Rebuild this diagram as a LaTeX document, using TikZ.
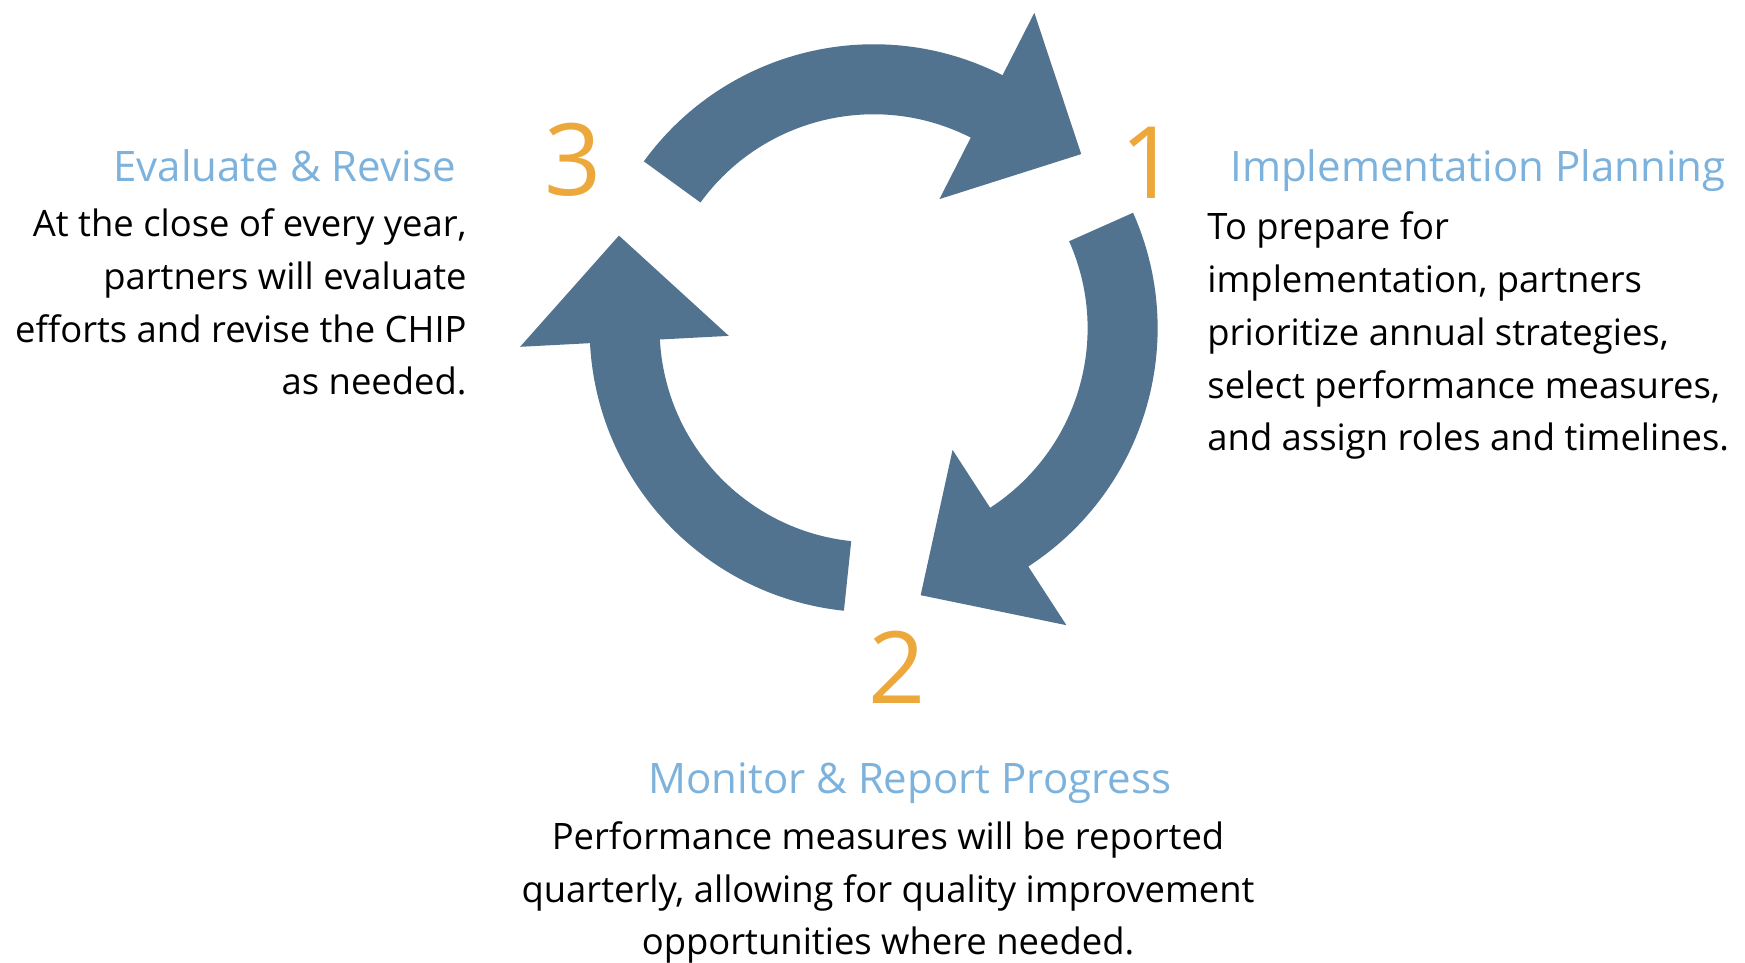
\documentclass[tikz,border=0pt]{standalone}
\usepackage{fontspec}
\setmainfont{Open Sans}
\usepackage{xcolor}
\usepackage{tikz}
\definecolor{cyclefill}{RGB}{82,115,143}
\definecolor{titleblue}{RGB}{125,178,220}
\definecolor{numorange}{RGB}{237,168,60}
\tikzstyle{numlabel} = [text=numorange, font=\fontsize{50}{50}\selectfont, inner sep=0pt]
\tikzstyle{steptitle} = [text=titleblue, font=\fontsize{21}{26}\selectfont, inner sep=0pt]
\tikzstyle{stepbody} = [font=\fontsize{18.2}{26.4}\selectfont, inner sep=0pt]

\begin{document}
\begin{tikzpicture}[x=0.5pt, y=0.5pt]
    \useasboundingbox (0,0) rectangle (1745,963);

    % three curved arrows round the cycle
    \begin{scope}[shift={(873.6,634.7)}]
        \foreach \t in {144,24,264} {
            \pgfmathsetmacro{\h}{\t-81}
            \pgfmathsetmacro{\p}{\h-23}
            \fill[cyclefill] (\t:284) arc[start angle=\t, end angle=\h, radius=284]
                -- (\h:354) -- (\p:271) -- (\h:145) -- (\h:214)
                arc[start angle=\h, end angle=\t, radius=214] -- cycle;
        }
    \end{scope}

    \node[numlabel] (num1) at (1149,800) {1};
    \node[numlabel] (num2) at (897,296) {2};
    \node[numlabel] (num3) at (573,803) {3};

    % base of a multi-line node sits on its last line
    \node[steptitle, anchor=base west] (plan) at (1230,781) {Implementation Planning};
    \node[stepbody, anchor=base west, align=left] (plantext) at (1207,512)
        {To prepare for\\ implementation, partners\\ prioritize annual strategies,\\
         select performance measures,\\ and assign roles and timelines.};

    \node[steptitle, anchor=base] (monitor) at (910,169) {Monitor \& Report Progress};
    \node[stepbody, anchor=base, align=center] (monitortext) at (888,8)
        {Performance measures will be reported\\ quarterly, allowing for quality improvement\\
         opportunities where needed.};

    \node[steptitle, anchor=base east] (evaluate) at (456,781) {Evaluate \& Revise};
    \node[stepbody, anchor=base east, align=right] (evaluatetext) at (467,568)
        {At the close of every year,\\ partners will evaluate\\ efforts and revise the CHIP\\ as needed.};
\end{tikzpicture}
\end{document}
